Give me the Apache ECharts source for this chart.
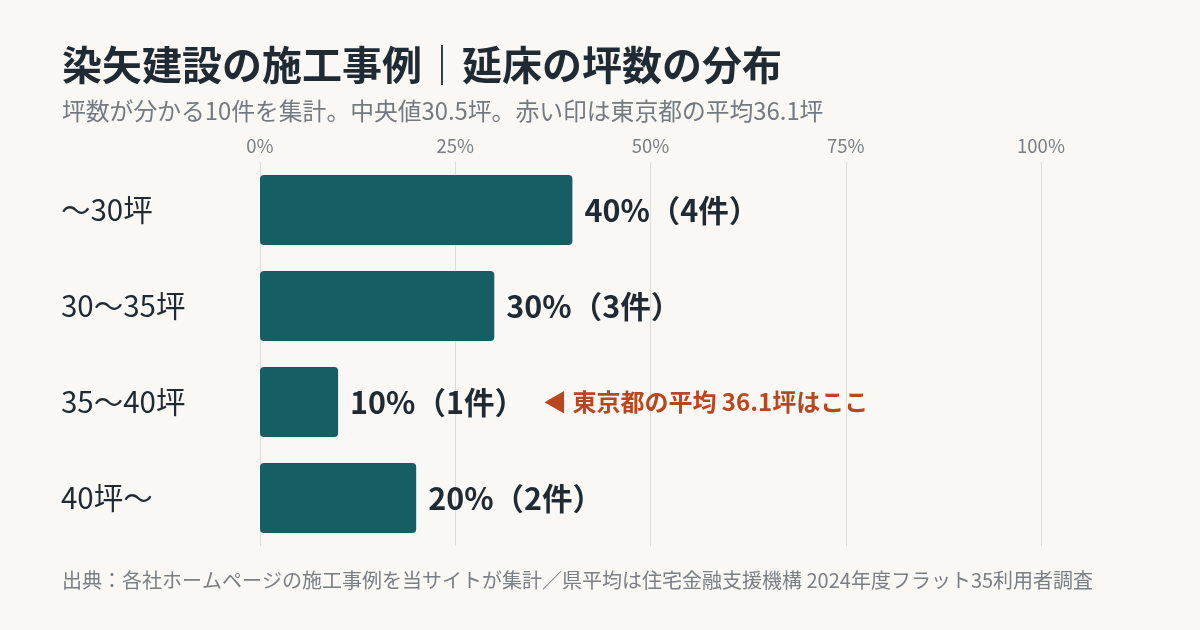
<!DOCTYPE html>
<html><head><meta charset="utf-8">
<script src="https://cdn.jsdelivr.net/npm/echarts@6/dist/echarts.min.js"></script>
<style>html,body{margin:0;padding:0;background:#f9f8f5;}#c{width:1200px;height:630px;}</style>
</head><body><div id="c"></div>
<script>
const categories = ['〜30坪', '30〜35坪', '35〜40坪', '40坪〜'];
const percents = [40, 30, 10, 20];
const counts = [4, 3, 1, 2];
const axisTicks = [0, 25, 50, 75, 100];
const tokyoAverage = 36.1;
const tokyoCategoryIndex = 2;
const titleText = '染矢建設の施工事例｜延床の坪数の分布';
const subtitleText = '坪数が分かる10件を集計。中央値30.5坪。赤い印は東京都の平均36.1坪';
const footerText = '出典：各社ホームページの施工事例を当サイトが集計／県平均は住宅金融支援機構 2024年度フラット35利用者調査';

const FONT = '"Noto Sans CJK JP", "Noto Sans", sans-serif';
const chart = echarts.init(document.getElementById('c'), null, {renderer: 'canvas'});
chart.setOption({
  backgroundColor: '#f9f8f5',
  textStyle: {fontFamily: FONT},
  title: [
    {text: titleText, left: 57, top: 40, textStyle: {fontFamily: FONT, fontSize: 40, fontWeight: 'bold', color: '#1f2a33'}},
    {text: subtitleText, left: 57, top: 94, textStyle: {fontFamily: FONT, fontSize: 23.8, fontWeight: 'normal', color: '#747a80'}},
    {text: footerText, left: 57, top: 565, textStyle: {fontFamily: FONT, fontSize: 20, fontWeight: 'normal', color: '#7a7f85'}}
  ],
  grid: {left: 260, right: 159, top: 162, bottom: 84, containLabel: false},
  xAxis: {
    type: 'value', position: 'top', min: axisTicks[0], max: axisTicks[axisTicks.length - 1], interval: 25,
    axisLine: {show: false}, axisTick: {show: false},
    axisLabel: {formatter: '{value}%', color: '#7a7f85', fontSize: 18.5, margin: 7, fontFamily: FONT},
    splitLine: {show: true, lineStyle: {color: '#dcdcd8', width: 1}}
  },
  yAxis: {
    type: 'category', data: categories, inverse: true,
    axisLine: {show: false}, axisTick: {show: false},
    axisLabel: {align: 'left', margin: 199, color: '#1f2a33', fontSize: 29.5, fontFamily: FONT}
  },
  series: [{
    type: 'bar', data: percents, barWidth: 70,
    itemStyle: {color: '#165e63', borderRadius: 4},
    label: {
      show: true, position: 'right', distance: 12,
      formatter: function (p) {
        let s = '{v|' + p.value + '%（' + counts[p.dataIndex] + '件）}';
        if (p.dataIndex === tokyoCategoryIndex) {
          s += '{a|◀ 東京都の平均 ' + tokyoAverage + '坪はここ}';
        }
        return s;
      },
      rich: {
        v: {fontSize: 30.5, fontWeight: 'bold', color: '#1f2a33', fontFamily: FONT},
        a: {fontSize: 24, fontWeight: 'bold', color: '#b8461f', fontFamily: FONT, padding: [0, 0, 0, 18]}
      }
    }
  }]
});
</script></body></html>
